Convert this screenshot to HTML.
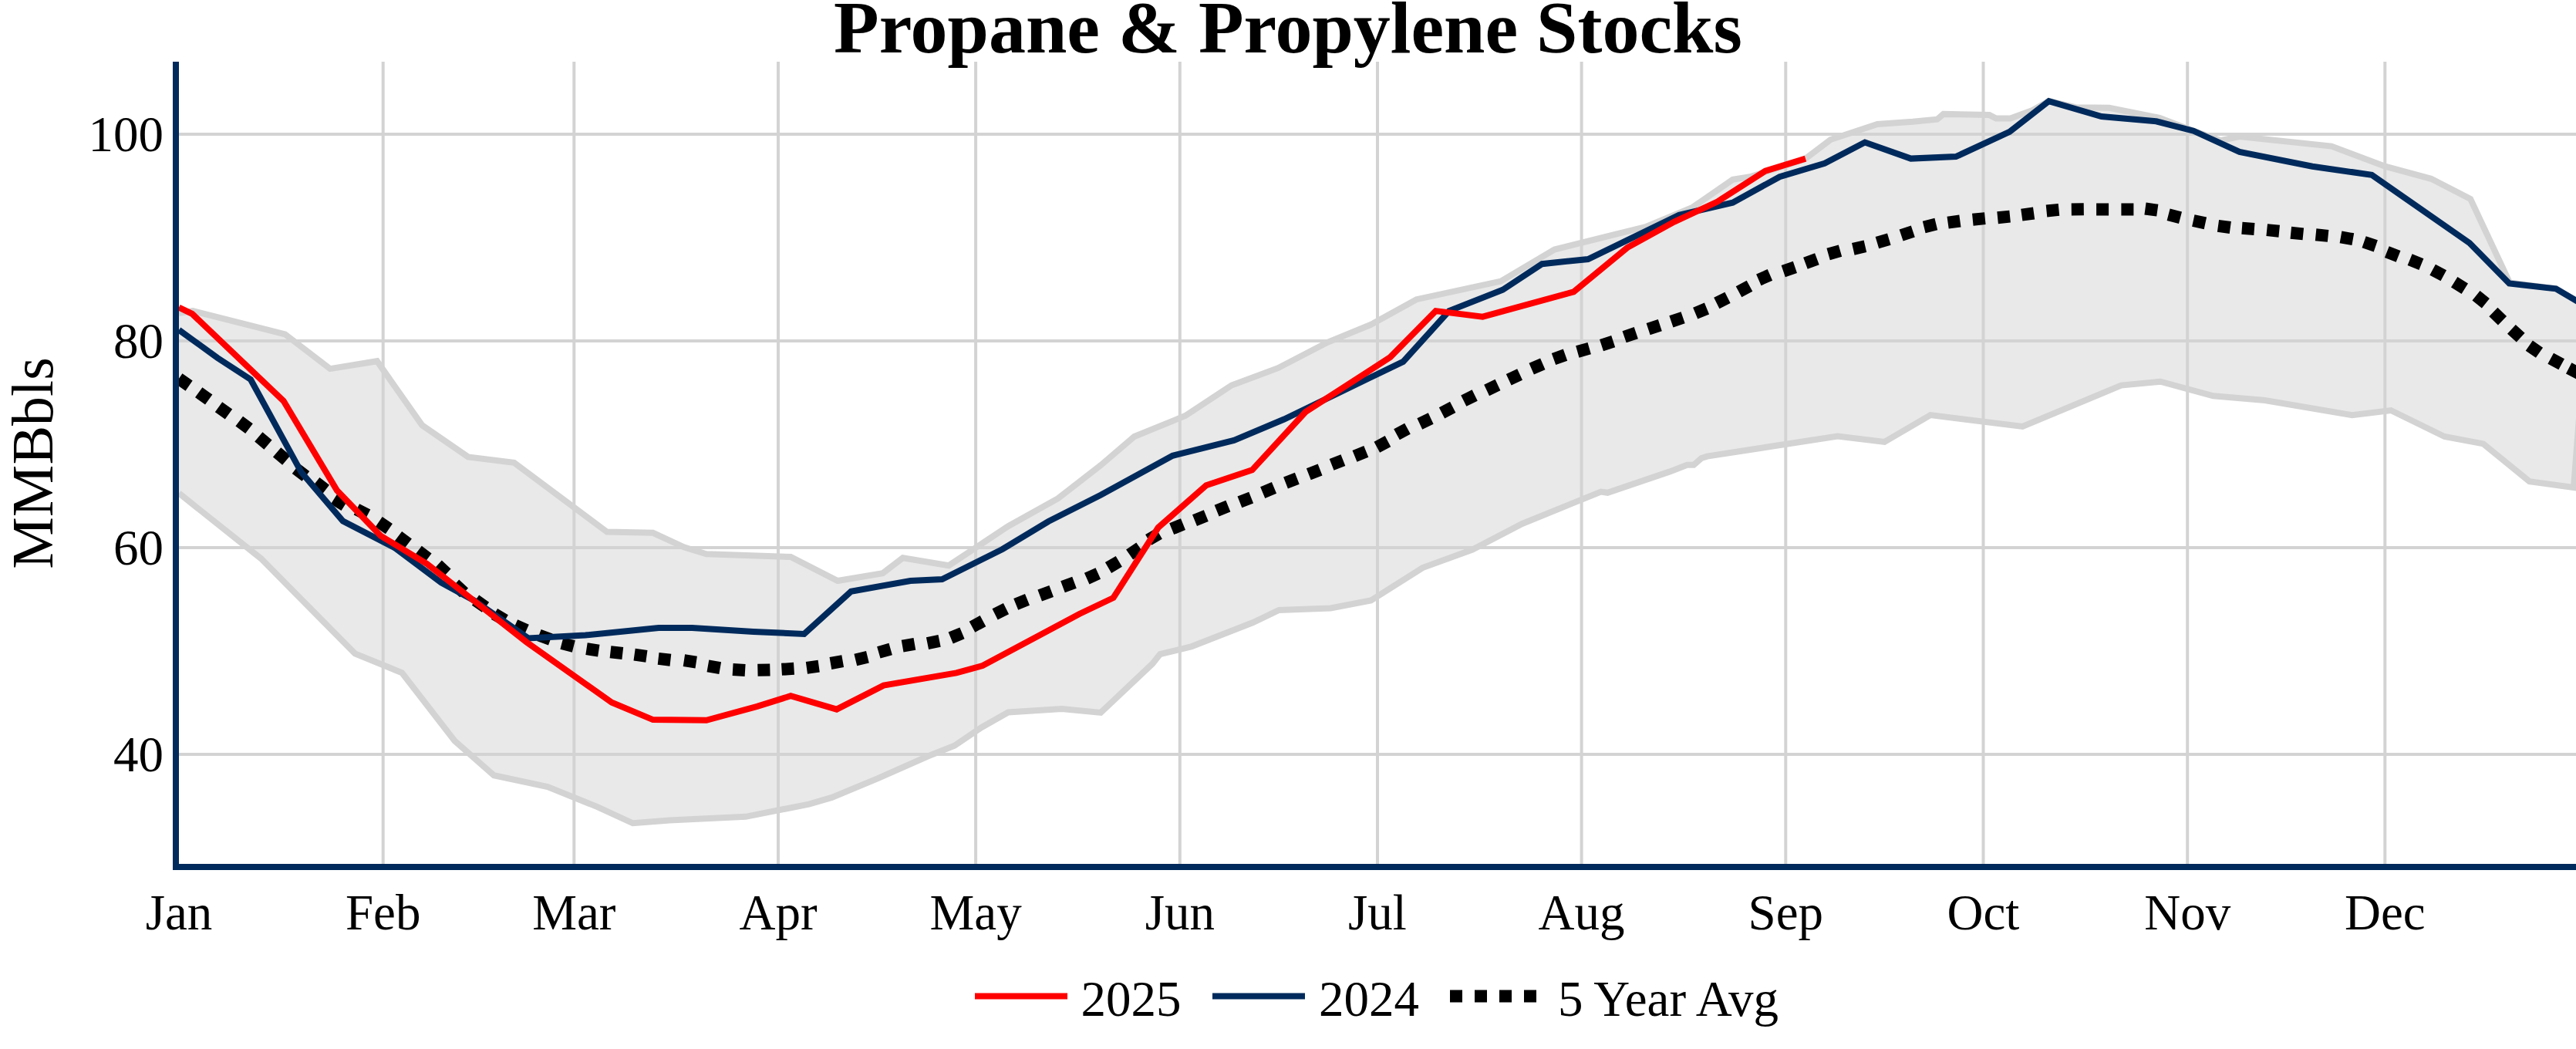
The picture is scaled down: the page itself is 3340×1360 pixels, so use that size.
<!DOCTYPE html><html><head><meta charset="utf-8"><style>html,body{margin:0;padding:0;background:#fff;}svg{display:block}</style></head><body>
<svg width="3340" height="1360" viewBox="0 0 3340 1360">
<rect width="3340" height="1360" fill="#fff"/>
<path d="M496.7,80V1120 M744.3,80V1120 M1009.0,80V1120 M1265.1,80V1120 M1529.8,80V1120 M1786.0,80V1120 M2050.6,80V1120 M2315.3,80V1120 M2571.5,80V1120 M2836.2,80V1120 M3092.3,80V1120 M232,174.0H3340 M232,442.0H3340 M232,710.0H3340 M232,978.0H3340" stroke="#d3d3d3" stroke-width="4" fill="none"/>
<defs><clipPath id="pc"><rect x="232" y="80" width="3108" height="1040"/></clipPath></defs>
<g clip-path="url(#pc)" stroke-linejoin="miter" stroke-miterlimit="4">
<path d="M232.0,406.0 L250.0,403.0 L369.6,433.4 L428.0,478.1 L488.9,468.2 L547.3,551.4 L606.9,592.4 L666.5,599.9 L787.0,689.6 L846.6,690.8 L887.3,709.6 L915.9,718.3 L1025.2,722.0 L1086.1,753.0 L1144.5,743.1 L1170.6,723.2 L1230.2,733.2 L1307.2,682.2 L1371.8,646.2 L1427.2,603.2 L1470.7,566.0 L1536.9,539.0 L1596.9,499.5 L1657.0,477.2 L1721.3,443.8 L1778.3,420.5 L1836.6,388.2 L1946.0,364.6 L2015.5,323.6 L2085.1,306.2 L2134.8,293.8 L2194.4,268.9 L2246.6,232.9 L2268.9,229.2 L2340.0,206.5 L2373.5,181.0 L2434.2,160.9 L2480.0,157.8 L2511.7,154.7 L2519.8,147.9 L2579.4,149.1 L2588.1,153.5 L2606.7,153.5 L2635.3,142.9 L2656.5,131.1 L2691.2,139.2 L2734.7,139.8 L2800.0,152.9 L2844.1,169.7 L2878.9,182.1 L2903.7,177.1 L3023.0,189.6 L3092.5,215.7 L3152.2,231.8 L3203.1,257.9 L3254.0,366.5 L3314.0,374.4 L3344.0,392.0 L3348.0,490.0 L3337.0,632.0 L3279.6,624.2 L3219.8,575.4 L3169.5,566.0 L3100.0,532.0 L3049.8,538.3 L2936.6,519.0 L2869.6,513.3 L2801.2,494.7 L2750.3,499.6 L2622.4,553.0 L2503.0,538.1 L2443.4,572.9 L2382.5,565.5 L2213.5,591.6 L2206.1,594.0 L2196.1,602.7 L2187.5,602.7 L2165.1,611.4 L2084.3,638.8 L2075.7,637.5 L1973.8,679.0 L1909.2,712.5 L1844.6,736.1 L1777.5,778.5 L1725.3,788.4 L1658.3,790.9 L1624.7,807.1 L1545.2,838.1 L1504.2,848.1 L1494.3,860.5 L1427.2,923.9 L1376.8,919.1 L1307.2,923.4 L1272.4,943.2 L1237.6,966.8 L1202.9,980.5 L1138.3,1009.1 L1078.6,1033.9 L1048.8,1042.6 L966.8,1058.8 L868.0,1063.5 L820.5,1067.3 L774.6,1046.1 L710.0,1020.1 L640.4,1005.2 L589.5,960.4 L521.2,872.2 L460.3,847.4 L338.6,724.3 L232.0,639.5Z" fill="rgba(211,211,211,0.5)" stroke="none"/>
<path d="M232.0,406.0 L250.0,403.0 L369.6,433.4 L428.0,478.1 L488.9,468.2 L547.3,551.4 L606.9,592.4 L666.5,599.9 L787.0,689.6 L846.6,690.8 L887.3,709.6 L915.9,718.3 L1025.2,722.0 L1086.1,753.0 L1144.5,743.1 L1170.6,723.2 L1230.2,733.2 L1307.2,682.2 L1371.8,646.2 L1427.2,603.2 L1470.7,566.0 L1536.9,539.0 L1596.9,499.5 L1657.0,477.2 L1721.3,443.8 L1778.3,420.5 L1836.6,388.2 L1946.0,364.6 L2015.5,323.6 L2085.1,306.2 L2134.8,293.8 L2194.4,268.9 L2246.6,232.9 L2268.9,229.2 L2340.0,206.5 L2373.5,181.0 L2434.2,160.9 L2480.0,157.8 L2511.7,154.7 L2519.8,147.9 L2579.4,149.1 L2588.1,153.5 L2606.7,153.5 L2635.3,142.9 L2656.5,131.1 L2691.2,139.2 L2734.7,139.8 L2800.0,152.9 L2844.1,169.7 L2878.9,182.1 L2903.7,177.1 L3023.0,189.6 L3092.5,215.7 L3152.2,231.8 L3203.1,257.9 L3254.0,366.5 L3314.0,374.4 L3344.0,392.0" fill="none" stroke="#d3d3d3" stroke-width="8"/>
<path d="M232.0,639.5 L338.6,724.3 L460.3,847.4 L521.2,872.2 L589.5,960.4 L640.4,1005.2 L710.0,1020.1 L774.6,1046.1 L820.5,1067.3 L868.0,1063.5 L966.8,1058.8 L1048.8,1042.6 L1078.6,1033.9 L1138.3,1009.1 L1202.9,980.5 L1237.6,966.8 L1272.4,943.2 L1307.2,923.4 L1376.8,919.1 L1427.2,923.9 L1494.3,860.5 L1504.2,848.1 L1545.2,838.1 L1624.7,807.1 L1658.3,790.9 L1725.3,788.4 L1777.5,778.5 L1844.6,736.1 L1909.2,712.5 L1973.8,679.0 L2075.7,637.5 L2084.3,638.8 L2165.1,611.4 L2187.5,602.7 L2196.1,602.7 L2206.1,594.0 L2213.5,591.6 L2382.5,565.5 L2443.4,572.9 L2503.0,538.1 L2622.4,553.0 L2750.3,499.6 L2801.2,494.7 L2869.6,513.3 L2936.6,519.0 L3049.8,538.3 L3100.0,532.0 L3169.5,566.0 L3219.8,575.4 L3279.6,624.2 L3337.0,632.0 L3348.0,490.0" fill="none" stroke="#d3d3d3" stroke-width="8"/>
<path d="M231.9,490.9L245.1,500.1M257.7,508.7L270.7,518.1M283.5,527.7L296.5,537.1M310.2,546.1L323.0,555.7M335.3,566.4L347.5,576.6M359.1,586.3L371.3,596.7M383.6,607.6L396.4,617.4M409.5,625.3L422.1,635.1M433.2,646.7L446.8,655.3M462.4,660.3L476.6,667.7M491.2,676.7L504.4,685.7M516.3,695.3L529.1,704.9M542.0,714.2L554.8,723.8M567.4,732.5L579.2,743.3M589.8,757.5L601.6,768.3M616.5,778.1L629.5,787.3M641.0,796.0L654.8,804.2M667.9,810.5L682.5,817.1M698.8,823.4L713.8,829.0M728.4,834.1L743.8,838.1M760.5,841.2L776.3,843.6M791.5,845.2L807.3,847.0M822.6,848.7L838.4,850.9M853.6,853.9L869.4,855.7M886.9,856.2L902.7,858.6M917.9,863.4L933.7,866.2M950.1,868.1L966.1,869.1M982.4,868.8L998.4,868.4M1013.5,867.8L1029.5,866.8M1045.9,865.9L1061.7,863.7M1076.9,860.0L1092.7,857.2M1109.3,855.6L1124.9,851.8M1139.3,845.9L1154.7,841.5M1170.1,837.7L1185.9,834.9M1202.5,834.1L1218.1,830.9M1232.7,827.0L1247.5,820.8M1260.5,812.7L1274.5,805.1M1290.1,796.4L1304.5,789.2M1317.2,783.4L1332.0,777.4M1348.2,772.0L1363.2,766.4M1378.0,760.8L1393.0,755.2M1409.2,750.1L1423.8,743.5M1437.0,736.0L1450.8,727.8M1464.6,719.0L1477.8,710.0M1489.1,699.9L1502.9,691.9M1519.2,685.7L1534.0,679.7M1549.0,674.6L1563.8,668.6M1577.6,662.1L1592.4,656.1M1607.4,650.9L1622.2,645.1M1637.2,638.6L1652.0,632.4M1667.0,626.0L1681.8,620.2M1696.8,614.8L1711.6,609.0M1726.6,602.4L1741.4,596.6M1756.5,591.3L1771.3,585.3M1785.3,579.7L1799.5,572.1M1811.0,563.3L1825.0,555.7M1840.8,549.4L1855.2,542.6M1869.5,535.3L1883.7,527.9M1897.8,519.7L1912.2,512.5M1927.6,505.9L1942.0,499.1M1956.2,492.2L1970.6,485.4M1985.7,478.2L2000.3,471.8M2014.5,465.5L2029.5,460.1M2045.3,456.0L2060.7,451.6M2076.5,447.6L2091.7,442.6M2106.1,436.8L2121.3,431.6M2137.1,426.7L2152.3,421.7M2166.9,416.9L2182.1,411.7M2198.2,406.2L2213.0,400.0M2225.8,393.0L2240.0,385.8M2254.5,378.3L2268.5,370.7M2280.3,362.8L2294.9,356.4M2312.2,351.6L2327.4,346.4M2340.9,341.3L2355.9,335.7M2370.6,329.5L2386.0,325.1M2402.8,322.9L2418.4,319.3M2433.9,314.7L2449.3,310.1M2465.1,305.0L2480.3,300.0M2494.7,294.4L2510.3,290.6M2525.6,288.7L2541.4,286.5M2557.8,284.7L2573.8,283.1M2590.1,282.2L2606.1,280.6M2621.3,278.7L2637.1,276.5M2653.5,273.5L2669.5,271.9M2685.8,271.5L2701.8,271.3M2718.1,271.5L2734.1,271.5M2750.4,271.6L2766.4,271.6M2781.5,270.5L2797.3,272.7M2811.6,278.2L2827.0,282.2M2843.8,286.0L2859.4,289.4M2876.0,292.8L2891.8,295.0M2906.9,295.8L2922.9,297.0M2939.2,298.1L2955.2,299.7M2970.3,301.8L2986.3,303.4M3002.6,304.3L3018.6,305.9M3035.0,307.4L3050.8,310.2M3065.1,313.7L3080.3,318.9M3094.8,326.6L3109.6,332.4M3124.6,336.6L3139.4,342.6M3154.1,349.7L3168.3,357.3M3182.2,365.8L3195.8,374.2M3210.5,383.2L3222.9,393.2M3232.9,404.6L3244.5,415.8M3256.4,426.9L3268.2,437.7M3279.3,448.1L3292.5,457.3M3307.2,464.7L3321.2,472.3M3330.7,477.3L3344.9,484.7" stroke="#000" stroke-width="16" fill="none"/>
<path d="M232.0,427.7 L282.0,464.0 L325.0,492.0 L390.7,612.3 L444.6,675.5 L512.0,710.4 L572.1,755.4 L615.5,779.0 L685.1,827.5 L759.0,823.5 L854.0,814.0 L897.3,813.9 L976.8,818.9 L1042.6,821.9 L1103.5,766.7 L1180.5,753.0 L1221.5,751.1 L1299.8,712.0 L1359.4,676.0 L1427.2,641.7 L1520.4,590.8 L1599.9,570.9 L1665.0,543.5 L1819.3,468.9 L1878.9,403.1 L1948.4,375.8 L1999.4,342.2 L2059.0,336.0 L2177.0,278.9 L2246.6,262.7 L2307.5,229.2 L2365.8,211.8 L2418.0,184.5 L2477.6,205.6 L2536.0,203.1 L2605.6,170.8 L2656.5,131.1 L2724.8,151.1 L2795.7,157.3 L2844.1,169.7 L2903.7,197.0 L2998.1,215.7 L3075.2,226.8 L3201.9,315.0 L3253.5,367.5 L3314.0,374.4 L3344.0,392.0" stroke="#002a5c" stroke-width="8" fill="none"/>
<path d="M232.0,398.6 L249.1,406.8 L367.6,519.8 L436.9,635.8 L493.5,694.6 L553.6,731.0 L682.7,832.5 L793.2,910.7 L846.6,933.1 L915.9,933.8 L981.7,915.9 L1025.2,902.2 L1084.8,919.6 L1145.7,888.6 L1240.1,872.4 L1274.0,863.0 L1399.5,796.0 L1443.6,775.0 L1501.7,684.0 L1563.9,629.3 L1623.5,609.4 L1692.6,534.2 L1802.5,463.1 L1861.5,403.1 L1922.4,410.6 L2040.4,378.3 L2109.9,321.1 L2170.8,287.6 L2226.7,261.5 L2288.8,221.7 L2341.0,205.6" stroke="#ff0000" stroke-width="8" fill="none"/>
</g>
<path d="M228,80V1124H3340" stroke="#002a5c" stroke-width="8" fill="none" stroke-linejoin="miter"/>
<g font-family="Liberation Serif, Times New Roman, serif" font-size="65" fill="#000">
<text x="232.0" y="1205" text-anchor="middle">Jan</text>
<text x="496.7" y="1205" text-anchor="middle">Feb</text>
<text x="744.3" y="1205" text-anchor="middle">Mar</text>
<text x="1009.0" y="1205" text-anchor="middle">Apr</text>
<text x="1265.1" y="1205" text-anchor="middle">May</text>
<text x="1529.8" y="1205" text-anchor="middle">Jun</text>
<text x="1786.0" y="1205" text-anchor="middle">Jul</text>
<text x="2050.6" y="1205" text-anchor="middle">Aug</text>
<text x="2315.3" y="1205" text-anchor="middle">Sep</text>
<text x="2571.5" y="1205" text-anchor="middle">Oct</text>
<text x="2836.2" y="1205" text-anchor="middle">Nov</text>
<text x="3092.3" y="1205" text-anchor="middle">Dec</text>
<text x="212" y="196.0" text-anchor="end">100</text>
<text x="212" y="464.0" text-anchor="end">80</text>
<text x="212" y="732.0" text-anchor="end">60</text>
<text x="212" y="1000.0" text-anchor="end">40</text>
</g>
<text font-family="Liberation Serif, Times New Roman, serif" font-size="76" transform="translate(68,600.5) rotate(-90)" text-anchor="middle">MMBbls</text>
<text font-family="Liberation Serif, Times New Roman, serif" font-size="96" font-weight="bold" x="1081" y="68">Propane &amp; Propylene Stocks</text>
<path d="M1264,1291.5H1384" stroke="#ff0000" stroke-width="8"/>
<path d="M1572,1291.5H1692" stroke="#002a5c" stroke-width="8"/>
<path d="M1880,1291.5H2000" stroke="#000" stroke-width="16" stroke-dasharray="16,16"/>
<g font-family="Liberation Serif, Times New Roman, serif" font-size="65" fill="#000"><text x="1401.5" y="1317">2025</text><text x="1710" y="1317">2024</text><text x="2020" y="1317">5 Year Avg</text></g>
</svg></body></html>
